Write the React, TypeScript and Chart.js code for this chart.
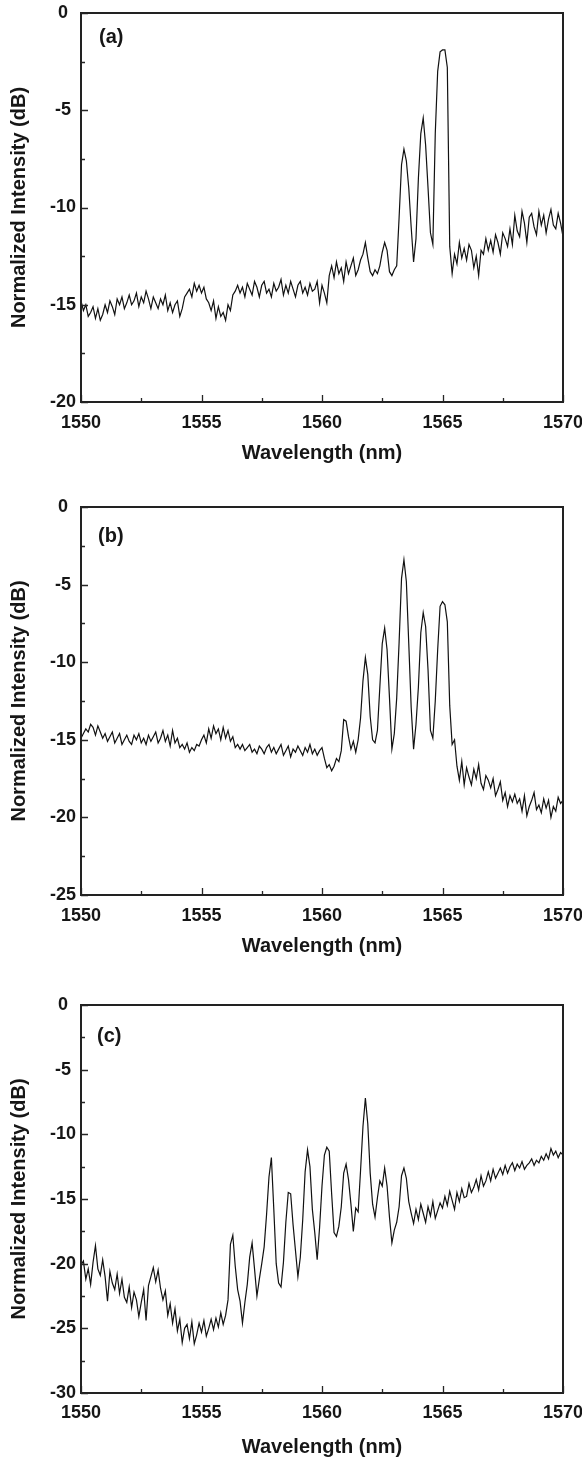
import React, { useEffect, useRef } from "react";
import { Chart, registerables } from "chart.js";

Chart.register(...registerables);

// ---------- data ----------
const WL_START = 1550;
const WL_STEP = 0.1;

const X_TICKS = [1550, 1555, 1560, 1565, 1570];
const Y_TICKS_A = [0, -5, -10, -15, -20];
const Y_TICKS_B = [0, -5, -10, -15, -20, -25];
const Y_TICKS_C = [0, -5, -10, -15, -20, -25, -30];

const X_TITLE = "Wavelength (nm)";
const Y_TITLE = "Normalized Intensity (dB)";
const TAGS = ["(a)", "(b)", "(c)"];

const SPEC_A = [
  -14.8, -15.3, -15.0, -15.6, -15.4, -15.1, -15.7, -15.2, -15.8, -15.5,
  -15.0, -15.4, -14.8, -15.1, -15.5, -14.7, -15.0, -14.6, -15.2, -14.9,
  -14.5, -15.0, -14.8, -14.4, -15.1, -14.6, -14.9, -14.3, -14.7, -15.2,
  -14.6, -14.9, -15.2, -14.7, -15.0, -14.5, -15.3, -14.9, -15.4, -15.0,
  -14.8, -15.6, -15.2, -14.6, -14.4, -14.2, -14.6, -13.9, -14.3, -14.0,
  -14.4, -14.1, -14.7, -14.9, -15.3, -14.8, -15.7, -15.1, -15.6, -15.4,
  -15.8, -15.0, -15.3, -14.5, -14.3, -14.0, -14.4, -14.1, -14.6, -13.9,
  -14.2, -14.5, -13.8, -14.1, -14.6, -14.0, -13.8, -14.4, -14.2, -14.6,
  -13.9, -14.3, -14.1, -13.7, -14.5, -14.0, -14.4, -13.8, -14.2, -14.6,
  -14.0, -13.8, -14.4, -14.1, -14.5, -13.9, -14.3, -14.2, -13.8, -14.9,
  -14.0, -14.4, -14.9, -13.5, -13.0, -13.6, -12.8, -13.4, -13.1, -13.8,
  -12.8, -13.4, -13.0, -12.6, -13.5, -13.2, -12.7, -12.4, -11.8, -12.6,
  -13.3, -13.5, -13.2, -13.4, -13.0, -12.3, -11.8, -12.2, -13.3, -13.5,
  -13.2, -13.0, -10.5, -7.8, -7.0, -7.6, -9.0, -11.0, -12.8, -11.6,
  -8.5, -6.2, -5.4, -6.8, -9.0, -11.3, -11.9, -6.2, -3.0, -2.0,
  -1.9, -1.9, -2.8, -12.0, -13.4, -12.4, -12.9, -11.8, -12.6, -12.1,
  -12.7, -11.9, -12.2, -13.1, -12.5, -13.5, -12.2, -12.4, -11.6, -12.2,
  -11.7, -12.3, -11.4, -11.8, -12.4, -11.3, -11.6, -12.0, -11.1, -11.9,
  -10.4, -11.2, -11.5, -10.2, -10.8, -11.8, -10.5, -10.3, -11.0, -11.4,
  -10.2, -10.9, -10.4, -11.3, -10.6, -10.1, -10.9, -11.1, -10.3, -10.8,
  -11.5,
];

const SPEC_B = [
  -14.9, -14.6, -14.3, -14.5, -14.0, -14.2, -14.7, -14.1, -14.5, -14.9,
  -14.6, -15.1, -14.8, -14.5, -15.2, -14.9, -14.6, -15.3, -15.0, -14.7,
  -15.1, -15.3, -14.7, -15.0, -14.6, -15.2, -14.9, -15.3, -14.7, -15.1,
  -14.8, -14.5, -15.2, -14.9, -14.4, -15.1, -14.7, -15.4, -14.4, -15.2,
  -14.9, -15.5, -15.3, -15.6, -15.2, -15.8, -15.5, -15.7, -15.3, -15.4,
  -15.0, -14.7, -15.2, -14.3, -14.9, -14.1, -14.6, -14.3, -15.0, -14.2,
  -14.9, -14.4, -15.1, -14.8, -15.5, -15.3, -15.6, -15.3, -15.7, -15.5,
  -15.3, -15.8, -15.6, -15.9, -15.4, -15.6, -15.9, -15.5, -15.3, -15.8,
  -15.5, -15.9, -15.6, -15.3, -16.0, -15.7, -15.4, -16.1, -15.6, -15.8,
  -15.4, -15.7, -16.0, -15.5, -15.8, -15.3, -15.9, -15.6, -16.0, -15.7,
  -15.5, -16.2, -16.8, -16.6, -17.0, -16.7, -16.2, -16.4, -15.7, -13.7,
  -13.8, -14.8, -15.6, -15.1, -15.8, -15.0, -13.6, -11.2, -9.7, -10.8,
  -13.5, -15.0, -15.2, -14.4, -11.6, -8.8, -7.8, -9.2, -12.3, -15.6,
  -14.6, -12.3, -8.7, -4.6, -3.4, -4.8, -8.8, -12.9, -15.6, -14.0,
  -11.6, -8.1, -6.8, -7.7, -10.5, -14.4, -14.9, -12.5, -9.2, -6.4,
  -6.1, -6.3, -7.4, -12.8, -15.3, -15.0, -16.7, -17.6, -16.4, -17.9,
  -16.8, -17.4, -17.9, -16.9, -17.5, -16.6, -17.8, -18.2, -17.3, -17.6,
  -18.1, -17.5, -18.6, -18.2, -17.7, -18.9, -18.4, -19.3, -18.6, -19.0,
  -18.5, -19.1, -18.8, -19.6, -18.6, -19.9, -19.3, -18.9, -18.4, -19.5,
  -19.2, -19.7, -18.8, -19.4, -18.9, -20.0, -19.3, -19.6, -18.7, -19.1,
  -18.9,
];

const SPEC_C = [
  -20.1, -19.8, -21.2, -20.4, -21.6, -19.9, -18.6, -20.4, -20.9, -19.7,
  -21.0, -22.9, -20.6, -21.5, -22.0, -20.8, -22.3, -21.2, -22.6, -23.0,
  -21.8, -23.4, -22.2, -22.8, -24.1, -23.0, -22.0, -24.4, -21.7, -21.0,
  -20.3, -21.4, -20.5, -21.9, -22.8, -22.1, -24.0, -23.1, -24.6, -23.5,
  -25.2, -24.3, -26.1, -25.0, -24.7, -25.8, -24.5, -26.2, -25.5, -24.6,
  -25.3, -24.4, -25.6, -25.0, -24.3, -25.1, -24.2, -24.9, -23.8, -24.7,
  -24.0, -22.8, -18.5, -17.8, -20.2, -22.0, -22.9, -24.6, -23.0, -21.6,
  -19.5, -18.4, -20.4, -22.5, -21.2, -20.0, -18.7, -16.2, -13.3, -11.8,
  -15.8, -20.0, -21.5, -21.8, -19.9, -16.8, -14.5, -14.6, -17.0, -19.0,
  -21.0, -19.5, -16.6, -12.9, -11.2, -12.5, -15.8, -17.6, -19.7, -17.2,
  -14.0, -11.6, -11.0, -11.3, -14.6, -17.6, -17.9, -17.1, -15.6, -13.0,
  -12.3, -13.5, -15.4, -17.5, -15.7, -16.0, -12.8, -9.4, -7.2, -9.2,
  -13.0, -15.4, -16.4, -14.9, -13.6, -14.0, -12.6, -14.0, -16.4, -18.4,
  -17.4, -16.8, -15.6, -13.2, -12.6, -13.4, -15.2, -16.1, -16.9, -15.8,
  -16.6, -15.4, -16.1, -16.8, -15.6, -16.3, -15.2, -16.5, -15.9, -15.3,
  -15.7, -14.8, -15.5, -14.4, -15.1, -15.8, -14.5, -15.2, -14.2, -14.9,
  -14.8, -13.8, -14.5, -14.1, -13.5, -14.3, -13.2, -14.0, -13.6, -12.9,
  -13.6, -12.7, -13.4, -13.0, -12.6, -13.1, -12.4, -13.0, -12.5, -12.2,
  -12.8, -12.3, -12.6, -12.1, -12.7, -12.4, -12.2, -11.9, -12.4, -12.0,
  -12.2, -11.7, -12.0, -11.5, -11.9, -11.1, -11.6, -11.3, -11.8, -11.4,
  -11.6,
];

// ---------- styling / layout ----------
const FONT = "'Liberation Sans', Arial, Helvetica, sans-serif";
const TEXT_COLOR = "#161616";
const W = 582;
const PLOT_LEFT = 81;
const PLOT_RIGHT = 563;

type PanelCfg = {
  tag: string;
  values: number[];
  yTicks: number[];
  top: number;
  height: number;
  plotTop: number;
  plotBottom: number;
  xLabelPad: number;
  xTitlePad: number;
  tagDx: number;
  tagDy: number;
};

const PANELS: PanelCfg[] = [
  { tag: TAGS[0], values: SPEC_A, yTicks: Y_TICKS_A, top: 0, height: 470, plotTop: 13, plotBottom: 402, xLabelPad: 10, xTitlePad: 5, tagDx: 18, tagDy: 24 },
  { tag: TAGS[1], values: SPEC_B, yTicks: Y_TICKS_B, top: 470, height: 490, plotTop: 37, plotBottom: 425, xLabelPad: 10, xTitlePad: 2, tagDx: 17, tagDy: 29 },
  { tag: TAGS[2], values: SPEC_C, yTicks: Y_TICKS_C, top: 960, height: 499, plotTop: 45, plotBottom: 433, xLabelPad: 9, xTitlePad: 0, tagDx: 16, tagDy: 31 },
];

const framePlugin = {
  id: "frame",
  afterDraw(chart: any, _args: any, opts: any) {
    const { ctx, chartArea: a } = chart;
    const xs = chart.scales.x;
    const ys = chart.scales.y;
    const xt: number[] = opts.xTicks;
    const yt: number[] = opts.yTicks;
    ctx.save();
    ctx.strokeStyle = "#262626";
    ctx.lineWidth = 1.3;
    ctx.beginPath();
    for (let i = 0; i < xt.length; i++) {
      const p = Math.round(xs.getPixelForValue(xt[i])) + 0.5;
      ctx.moveTo(p, a.bottom);
      ctx.lineTo(p, a.bottom - 7);
      if (i < xt.length - 1) {
        const m = Math.round(xs.getPixelForValue((xt[i] + xt[i + 1]) / 2)) + 0.5;
        ctx.moveTo(m, a.bottom);
        ctx.lineTo(m, a.bottom - 4);
      }
    }
    for (let i = 0; i < yt.length; i++) {
      const p = Math.round(ys.getPixelForValue(yt[i])) + 0.5;
      ctx.moveTo(a.left, p);
      ctx.lineTo(a.left + 7, p);
      if (i < yt.length - 1) {
        const m = Math.round(ys.getPixelForValue((yt[i] + yt[i + 1]) / 2)) + 0.5;
        ctx.moveTo(a.left, m);
        ctx.lineTo(a.left + 4, m);
      }
    }
    ctx.stroke();
    ctx.lineWidth = 2;
    ctx.strokeStyle = "#222";
    ctx.strokeRect(a.left, a.top, a.right - a.left, a.bottom - a.top);
    ctx.fillStyle = TEXT_COLOR;
    ctx.font = `bold 20px ${FONT}`;
    ctx.textAlign = "left";
    ctx.textBaseline = "middle";
    ctx.fillText(opts.tag, a.left + opts.tagDx, a.top + opts.tagDy);
    ctx.restore();
  },
};

function Panel({ cfg }: { cfg: PanelCfg }) {
  const ref = useRef<HTMLCanvasElement>(null);
  useEffect(() => {
    const canvas = ref.current;
    if (!canvas) return;
    const points = cfg.values.map((v, i) => ({ x: WL_START + i * WL_STEP, y: v }));
    const tickFont = { family: FONT, size: 18, weight: "bold" as const };
    const titleFont = { family: FONT, size: 20, weight: "bold" as const };
    const xScaleHeight = cfg.height - cfg.plotBottom;
    const chart = new Chart(canvas, {
      type: "line",
      data: {
        datasets: [
          {
            data: points,
            borderColor: "#111111",
            borderWidth: 1.2,
            pointRadius: 0,
            tension: 0,
            fill: false,
          },
        ],
      },
      options: {
        animation: false,
        responsive: false,
        devicePixelRatio: 1,
        events: [],
        layout: { padding: { top: cfg.plotTop, right: W - PLOT_RIGHT, bottom: 0, left: 0 } },
        plugins: {
          legend: { display: false },
          tooltip: { enabled: false },
          frame: { xTicks: X_TICKS, yTicks: cfg.yTicks, tag: cfg.tag, tagDx: cfg.tagDx, tagDy: cfg.tagDy },
        } as any,
        scales: {
          x: {
            type: "linear",
            min: X_TICKS[0],
            max: X_TICKS[X_TICKS.length - 1],
            afterBuildTicks: (s: any) => {
              s.ticks = X_TICKS.map((v) => ({ value: v }));
            },
            afterFit: (s: any) => {
              s.height = xScaleHeight;
              s.paddingLeft = 0;
              s.paddingRight = 0;
              s.paddingTop = 0;
              s.paddingBottom = 0;
            },
            grid: { display: false, drawTicks: false },
            border: { display: false },
            ticks: {
              font: tickFont,
              color: TEXT_COLOR,
              padding: cfg.xLabelPad,
              maxRotation: 0,
              autoSkip: false,
              callback: (v: any) => String(v),
            },
            title: {
              display: true,
              text: X_TITLE,
              font: titleFont,
              color: TEXT_COLOR,
              padding: cfg.xTitlePad,
            },
          },
          y: {
            type: "linear",
            min: cfg.yTicks[cfg.yTicks.length - 1],
            max: cfg.yTicks[0],
            afterBuildTicks: (s: any) => {
              s.ticks = cfg.yTicks.slice().reverse().map((v) => ({ value: v }));
            },
            afterFit: (s: any) => {
              s.width = PLOT_LEFT;
              s.paddingLeft = 0;
              s.paddingRight = 0;
              s.paddingTop = 0;
              s.paddingBottom = 0;
            },
            grid: { display: false, drawTicks: false },
            border: { display: false },
            ticks: {
              font: tickFont,
              color: TEXT_COLOR,
              padding: 5,
              crossAlign: "center",
              autoSkip: false,
              callback: (v: any) => String(v),
            },
            title: {
              display: true,
              text: Y_TITLE,
              font: titleFont,
              color: TEXT_COLOR,
              padding: 7,
            },
          },
        },
      },
      plugins: [framePlugin],
    });
    return () => chart.destroy();
  }, [cfg]);
  return (
    <canvas
      ref={ref}
      width={W}
      height={cfg.height}
      style={{ position: "absolute", left: 0, top: cfg.top, width: W, height: cfg.height, display: "block" }}
    />
  );
}

export default function App() {
  return (
    <div style={{ position: "absolute", left: 0, top: 0, width: W, height: 1459, background: "#fff", overflow: "hidden" }}>
      {PANELS.map((p) => (
        <Panel key={p.tag} cfg={p} />
      ))}
    </div>
  );
}
